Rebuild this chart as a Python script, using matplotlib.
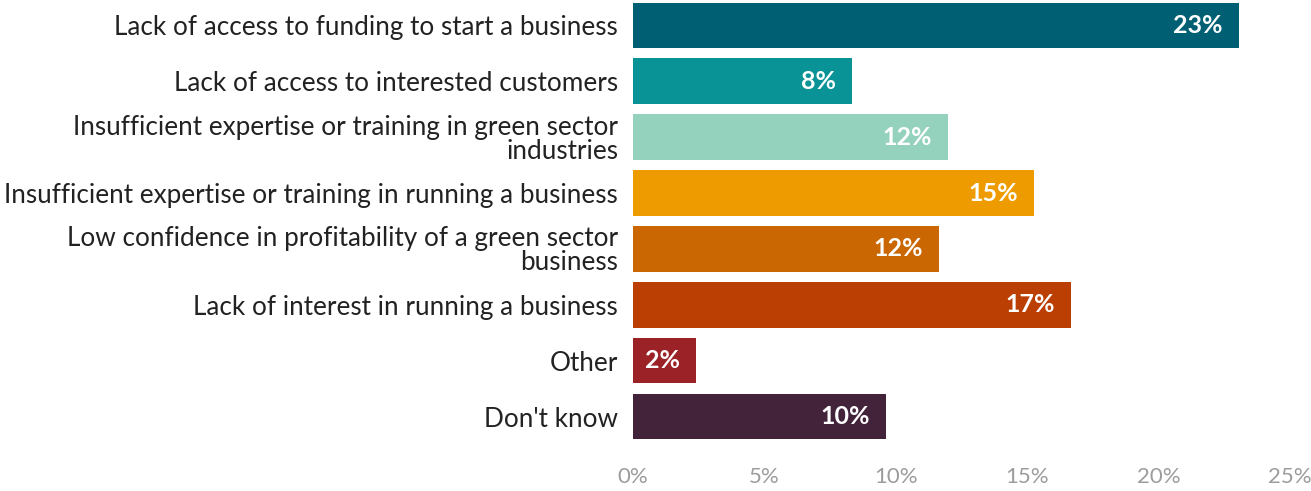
import matplotlib
matplotlib.use("Agg")
import matplotlib.pyplot as plt
from matplotlib.ticker import FuncFormatter

# Reasons given for not starting a green-sector business (% of respondents)
categories = [
    "Lack of access to funding to start a business",
    "Lack of access to interested customers",
    "Insufficient expertise or training in green sector\nindustries",
    "Insufficient expertise or training in running a business",
    "Low confidence in profitability of a green sector\nbusiness",
    "Lack of interest in running a business",
    "Other",
    "Don't know",
]
values = [23.05, 8.32, 11.97, 15.26, 11.63, 16.67, 2.41, 9.62]
colors = ["#005F73", "#0A9396", "#94D2BD", "#EE9B00",
          "#CA6702", "#BB3E03", "#9B2226", "#43233A"]
x_ticks = [0, 5, 10, 15, 20, 25]

plt.rcParams["font.family"] = ["Lato", "DejaVu Sans"]

W, H, DPI = 1311, 491, 100
fig = plt.figure(figsize=(W / DPI, H / DPI), dpi=DPI)
ax = fig.add_axes([633 / W, (H - 450) / H, 657 / W, 450 / H])

ypos = list(range(len(categories)))
ax.barh(ypos, values, height=0.814, color=colors)

for y, v in zip(ypos, values):
    ax.annotate(f"{round(v):.0f}%", xy=(v, y), xytext=(-11.5, 0),
                textcoords="offset points", ha="right", va="center",
                color="white", fontsize=18, fontweight="bold")

ax.set_xlim(0, 25)
ax.set_ylim(7.597, -0.453)
ax.set_xticks(x_ticks)
ax.xaxis.set_major_formatter(FuncFormatter(lambda v, p: f"{v:.0f}%"))
ax.set_yticks(ypos)
ax.set_yticklabels(categories, fontsize=18.8, color="#222222",
                   linespacing=0.95)
ax.tick_params(axis="y", length=0, pad=10.8)
ax.tick_params(axis="x", length=0, pad=12, labelsize=16,
               labelcolor="#9C9C9C")
for s in ax.spines.values():
    s.set_visible(False)

fig.savefig("out.png", dpi=DPI)
